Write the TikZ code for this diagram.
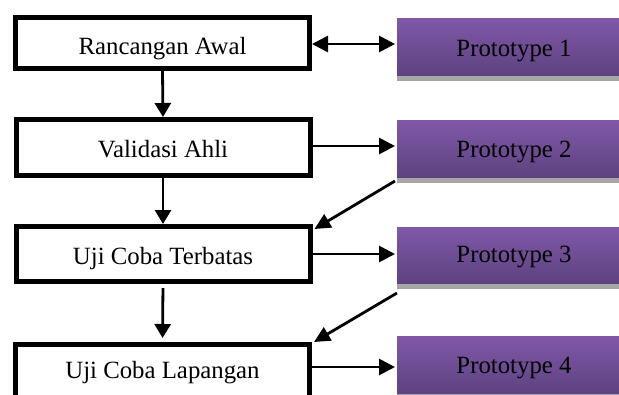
\documentclass[tikz,border=0pt]{standalone}
\usepackage{fontspec}
\setmainfont{Liberation Serif}
\usetikzlibrary{arrows.meta,shadows}
\definecolor{ptop}{RGB}{128,88,168}
\definecolor{pbot}{RGB}{94,66,128}
\definecolor{pshadow}{RGB}{166,166,166}
\begin{document}
\begin{tikzpicture}[x=1pt,y=-1pt,
  stagebox/.style={draw=black, line width=5pt, fill=white, minimum width=294pt,
    inner sep=0pt, text depth=0pt, font=\fontsize{24.8pt}{29pt}\selectfont},
  protobox/.style={draw=none, outer sep=0pt, top color=ptop, bottom color=pbot,
    minimum width=234pt, minimum height=57pt, inner sep=0pt, text depth=0pt,
    font=\fontsize{24.8pt}{29pt}\selectfont,
    drop shadow={shadow xshift=0pt, shadow yshift=-5.5pt, fill=pshadow, opacity=1}},
  conn/.style={line width=2.8pt},
  harr/.style={conn, -{Triangle[length=16pt,width=16pt]}},
  varr/.style={conn, -{Triangle[length=14pt,width=16pt]}},
  darr/.style={conn, -{Triangle[length=16pt,width=15pt]}}
]
\useasboundingbox (0,0) rectangle (619,394);
\clip (0,0) rectangle (619,394);

% left column
\node[stagebox, minimum height=51pt, text height=22.6pt] (b1) at (162.5,43) {Rancangan Awal};
\node[stagebox, minimum height=56pt, text height=19pt] (b2) at (163,147.5) {Validasi Ahli};
\node[stagebox, minimum height=55pt, text height=20pt] (b3) at (163,254) {Uji Coba Terbatas};
\node[stagebox, minimum height=60pt, text height=7pt] (b4) at (162.5,374.5) {Uji Coba Lapangan};

% right column
\node[protobox, text height=19pt] (p1) at (514,46.5) {Prototype 1};
\node[protobox, text height=17pt] (p2) at (514,148.5) {Prototype 2};
\node[protobox, minimum height=56pt, text height=14pt] (p3) at (514,255) {Prototype 3};
\node[protobox, text height=17pt] (p4) at (514,364.5) {Prototype 4};

% vertical arrows
\draw[varr] (b1.south) -- (b2.north);
\draw[varr] (b2.south) -- (b3.north);
\draw[varr, shorten <=4pt, shorten >=4pt] (b3.south) -- (b4.north);

% horizontal arrows
\draw[conn, {Triangle[length=16pt,width=16pt]}-{Triangle[length=16pt,width=16pt]}, shorten >=2pt]
  ([yshift=-1pt]b1.east) -- ([yshift=-1pt]b1.east -| p1.west);
\draw[harr, shorten >=2pt] ([yshift=1.5pt]b2.east) -- ([yshift=1.5pt]b2.east -| p2.west);
\draw[harr, shorten >=2pt] (b3.east) -- (b3.east -| p3.west);
\draw[harr, shorten >=2pt] ([yshift=-2.5pt]p4.west -| b4.east) -- ([yshift=-2.5pt]p4.west);

% diagonal arrows
\coordinate (d2s) at ([xshift=-2pt,yshift=-4pt]p2.south west);
\coordinate (d2e) at ([xshift=2pt,yshift=-5pt]b3.north east);
\draw[darr] (d2s) -- (d2e);
\coordinate (d3s) at ([xshift=0pt,yshift=-10pt]p3.south west);
\coordinate (d3e) at ([xshift=2pt,yshift=0pt]b4.north east);
\draw[darr] (d3s) -- (d3e);
\end{tikzpicture}
\end{document}
